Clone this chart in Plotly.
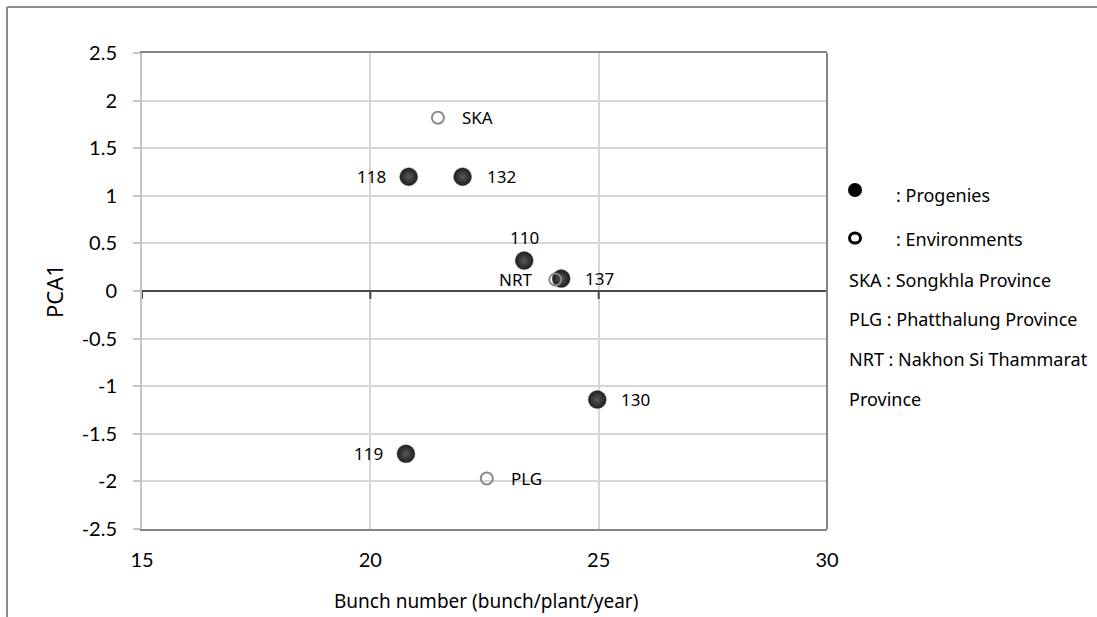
import plotly.graph_objects as go

# Progenies: bunch number vs first principal component score
progeny_ids = ["118", "132", "110", "137", "130", "119"]
progeny_bunch = [20.84, 22.02, 23.37, 24.18, 24.97, 20.78]
progeny_pca1 = [1.20, 1.20, 0.32, 0.13, -1.14, -1.71]

# Environments (provinces)
env_ids = ["SKA", "NRT", "PLG"]
env_bunch = [21.48, 24.05, 22.55]
env_pca1 = [1.82, 0.12, -1.97]

x_ticks = [15, 20, 25, 30]
y_ticks = [-2.5, -2, -1.5, -1, -0.5, 0, 0.5, 1, 1.5, 2, 2.5]

legend_lines = [
    ": Progenies",
    ": Environments",
    "SKA : Songkhla Province",
    "PLG : Phatthalung Province",
    "NRT : Nakhon Si Thammarat",
    "Province",
]

# label placement around each point
label_side = {"118": "left", "132": "right", "110": "top", "137": "right",
              "130": "right", "119": "left", "SKA": "right", "NRT": "left",
              "PLG": "right"}

W, H = 1097, 617
ML, MR, MT, MB = 142, 270, 53, 88
PW, PH = W - ML - MR, H - MT - MB


def px_x(p):
    return (p - ML) / PW


def px_y(p):
    return (H - MB - p) / PH


TICK_FONT = dict(family="Lato", size=20, color="#000000")
LABEL_FONT = dict(family="Noto Sans", size=17, color="#000000")
KEY_FONT = dict(family="Noto Sans", size=18, color="#000000")
GRID = "#d6d6d6"
BORDER = "#858585"

fig = go.Figure()

fig.add_trace(go.Scatter(
    x=progeny_bunch, y=progeny_pca1, mode="markers",
    marker=dict(size=18, color="#1e1e1e",
                gradient=dict(type="radial", color="#585858"),
                line=dict(width=1, color="rgba(70,70,70,0.45)")),
    hoverinfo="skip", showlegend=False,
))
fig.add_trace(go.Scatter(
    x=env_bunch, y=env_pca1, mode="markers",
    marker=dict(size=12, symbol="circle-open", color="#8a8a8a",
                line=dict(width=2, color="#8a8a8a")),
    hoverinfo="skip", showlegend=False,
))

annotations = []
for xs, ys, ids in ((progeny_bunch, progeny_pca1, progeny_ids),
                    (env_bunch, env_pca1, env_ids)):
    for xv, yv, name in zip(xs, ys, ids):
        side = label_side[name]
        a = dict(x=xv, y=yv, xref="x", yref="y", text=name, showarrow=False,
                 font=LABEL_FONT)
        if side == "right":
            a.update(xanchor="left", yanchor="middle", xshift=22)
        elif side == "left":
            a.update(xanchor="right", yanchor="middle", xshift=-21)
        else:
            a.update(xanchor="center", yanchor="bottom", yshift=10)
        annotations.append(a)

# axis titles
annotations.append(dict(x=px_x(54), y=0.5, xref="paper", yref="paper",
                        text="PCA1", textangle=-90, showarrow=False,
                        font=dict(family="Noto Sans", size=22, color="#000000"),
                        xanchor="center", yanchor="middle"))
annotations.append(dict(x=px_x(486), y=px_y(601), xref="paper", yref="paper",
                        text="Bunch number (bunch/plant/year)", showarrow=False,
                        font=dict(family="Noto Sans", size=19, color="#000000"),
                        xanchor="center", yanchor="middle"))

# key at the right
key_pos = [(894, 195), (894, 239), (847, 280), (847, 319), (847, 359), (847, 399)]
for text, (px, py) in zip(legend_lines, key_pos):
    annotations.append(dict(x=px_x(px), y=px_y(py), xref="paper", yref="paper",
                            text=text, showarrow=False, font=KEY_FONT,
                            xanchor="left", yanchor="middle"))

shapes = []
# zero-line tick marks
for t in x_ticks:
    shapes.append(dict(type="line", xref="x", yref="y", x0=t, x1=t,
                       ysizemode="pixel", yanchor=0, y0=0, y1=-8,
                       line=dict(color="#4a4a4a", width=2)))
# right border of plot area
shapes.append(dict(type="line", xref="paper", yref="paper", x0=1, x1=1,
                   y0=0, y1=1, line=dict(color=BORDER, width=2)))
# outer frame (top and left)
shapes.append(dict(type="line", xref="paper", yref="paper",
                   x0=px_x(7), x1=px_x(W + 5), y0=px_y(7), y1=px_y(7),
                   line=dict(color="#8c8c8c", width=2)))
shapes.append(dict(type="line", xref="paper", yref="paper",
                   x0=px_x(7), x1=px_x(7), y0=px_y(7), y1=px_y(H + 5),
                   line=dict(color="#8c8c8c", width=2)))
# key symbols
shapes.append(dict(type="circle", xref="paper", yref="paper",
                   xsizemode="pixel", ysizemode="pixel",
                   xanchor=px_x(855), yanchor=px_y(190),
                   x0=-7, x1=7, y0=-7, y1=7,
                   fillcolor="#000000", line=dict(width=0)))
shapes.append(dict(type="circle", xref="paper", yref="paper",
                   xsizemode="pixel", ysizemode="pixel",
                   xanchor=px_x(855), yanchor=px_y(238),
                   x0=-5.5, x1=5.5, y0=-5, y1=5,
                   fillcolor="rgba(0,0,0,0)", line=dict(color="#000000", width=3)))

fig.update_layout(
    width=W, height=H,
    margin=dict(l=ML, r=MR, t=MT, b=MB, pad=0),
    paper_bgcolor="white", plot_bgcolor="white",
    annotations=annotations, shapes=shapes,
    showlegend=False,
)
fig.update_xaxes(
    range=[15, 30], tickvals=x_ticks, ticktext=[str(t) for t in x_ticks],
    showgrid=True, gridcolor=GRID, gridwidth=2,
    showline=True, mirror=True, linecolor=BORDER, linewidth=2,
    ticks="", tickfont=TICK_FONT, ticklabelstandoff=12,
    zeroline=False, fixedrange=True,
)
fig.update_yaxes(
    range=[-2.5, 2.5], tickvals=y_ticks,
    ticktext=[("%g" % t) for t in y_ticks],
    showgrid=True, gridcolor=GRID, gridwidth=2,
    showline=True, linecolor="#c4c4c4", linewidth=2,
    ticks="outside", ticklen=7, tickwidth=2, tickcolor="#c4c4c4",
    tickfont=TICK_FONT, ticklabelstandoff=12,
    zeroline=True, zerolinecolor="#4a4a4a", zerolinewidth=2,
    fixedrange=True,
)

fig.write_html("out.html")
